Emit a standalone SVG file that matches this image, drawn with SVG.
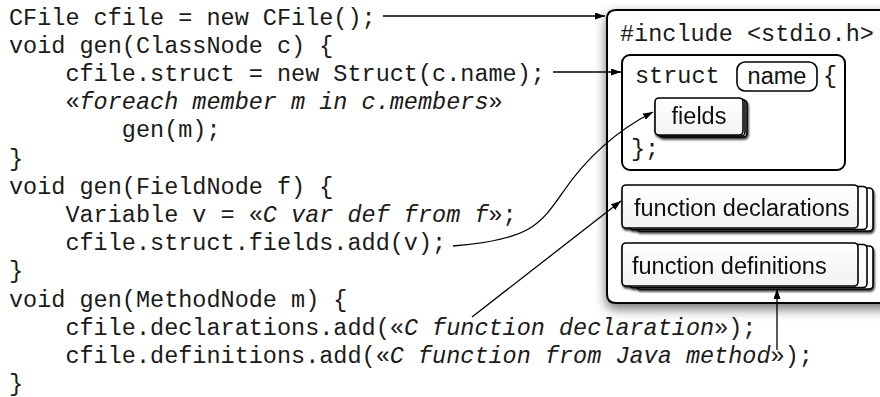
<svg xmlns="http://www.w3.org/2000/svg" width="880" height="397" viewBox="0 0 880 397">
<style>
.code{font-family:"Liberation Mono","Courier New",monospace;font-size:23.5px;fill:#1a1a1a}
.it{font-style:italic}
.sans{font-family:"Liberation Sans",Arial,Helvetica,sans-serif;font-size:23.5px;fill:#111}
.box{fill:#fff;stroke:#000;stroke-width:2}
.page{fill:#fcfcfc;stroke:#000;stroke-width:1.6}
.conn{fill:none;stroke:#000;stroke-width:1.3}
</style>
<defs>
<filter id="bigShadow" x="-10%" y="-10%" width="120%" height="125%">
<feDropShadow dx="0" dy="5" stdDeviation="6" flood-color="#000" flood-opacity="0.55"/>
</filter>
<filter id="smallShadow" x="-10%" y="-10%" width="120%" height="130%">
<feDropShadow dx="1" dy="2" stdDeviation="0.8" flood-color="#000" flood-opacity="0.8"/>
</filter>
<linearGradient id="pg" x1="0" y1="0" x2="0" y2="1">
<stop offset="0" stop-color="#ffffff"/>
<stop offset="1" stop-color="#f2f2f2"/>
</linearGradient>
<marker id="arr" markerUnits="userSpaceOnUse" markerWidth="11" markerHeight="8" refX="10" refY="3.5" orient="auto">
<path d="M0,0 L10,3.5 L0,7 z" fill="#000"/>
</marker>
</defs>

<g id="code">
<text class="code" x="9" y="24.5">CFile cfile = new CFile();</text>
<text class="code" x="9" y="52.7">void gen(ClassNode c) {</text>
<text class="code" x="9" y="80.9" xml:space="preserve">    cfile.struct = new Struct(c.name);</text>
<text class="code" x="9" y="109.1" xml:space="preserve">    «<tspan class="it">foreach member m in c.members</tspan>»</text>
<text class="code" x="9" y="137.3" xml:space="preserve">        gen(m);</text>
<text class="code" x="9" y="165.5">}</text>
<text class="code" x="9" y="193.7">void gen(FieldNode f) {</text>
<text class="code" x="9" y="221.9" xml:space="preserve">    Variable v = «<tspan class="it">C var def from f</tspan>»;</text>
<text class="code" x="9" y="250.1" xml:space="preserve">    cfile.struct.fields.add(v);</text>
<text class="code" x="9" y="278.3">}</text>
<text class="code" x="9" y="306.5">void gen(MethodNode m) {</text>
<text class="code" x="9" y="334.7" xml:space="preserve">    cfile.declarations.add(«<tspan class="it">C function declaration</tspan>»);</text>
<text class="code" x="9" y="362.9" xml:space="preserve">    cfile.definitions.add(«<tspan class="it">C function from Java method</tspan>»);</text>
<text class="code" x="9" y="390.5">}</text>
</g>

<g id="cfile">
<path class="box" d="M950,10 L616,10 Q607,10 607,19 L607,294 Q607,303 616,303 L950,303" filter="url(#bigShadow)"/>
<text class="code" x="620" y="41">#include &lt;stdio.h&gt;</text>
</g>

<g id="struct">
<rect class="box" x="622" y="55" width="223" height="115" rx="8"/>
<text class="code" x="635" y="83">struct</text>
<rect x="737" y="62" width="80" height="29" rx="8" fill="#fff" stroke="#000" stroke-width="1.6"/>
<text class="sans" x="777" y="84" text-anchor="middle">name</text>
<text class="code" x="823" y="83">{</text>
<text class="code" x="631" y="156">};</text>
</g>

<g id="fields" filter="url(#smallShadow)">
<rect class="page" x="659" y="100" width="88" height="37" rx="4"/>
<rect class="page" x="657" y="99" width="88" height="37" rx="4"/>
<rect x="655" y="98" width="88" height="37" rx="4" fill="url(#pg)" stroke="#000" stroke-width="1.6"/>
<text class="sans" x="699" y="124" text-anchor="middle">fields</text>
</g>

<g id="declarations" filter="url(#smallShadow)">
<rect class="page" x="636" y="188" width="237" height="43" rx="4"/>
<rect class="page" x="629" y="186.5" width="238" height="43" rx="4"/>
<rect x="622" y="185" width="236" height="43" rx="4" fill="url(#pg)" stroke="#000" stroke-width="1.6"/>
<text class="sans" x="634" y="216">function declarations</text>
</g>

<g id="definitions" filter="url(#smallShadow)">
<rect class="page" x="636" y="246" width="237" height="43" rx="4"/>
<rect class="page" x="629" y="244.5" width="238" height="43" rx="4"/>
<rect x="622" y="243" width="236" height="43" rx="4" fill="url(#pg)" stroke="#000" stroke-width="1.6"/>
<text class="sans" x="632" y="274">function definitions</text>
</g>

<g id="connectors">
<path class="conn" d="M383,16 L605,16" marker-end="url(#arr)"/>
<path class="conn" d="M553,72 L621,72" marker-end="url(#arr)"/>
<path class="conn" d="M453,246 C530,240 540,225 563,192 C585,160 612,133 653,112" marker-end="url(#arr)"/>
<path class="conn" d="M472,317 L621,201" marker-end="url(#arr)"/>
<path class="conn" d="M777,350 L777,289" marker-end="url(#arr)"/>
</g>
</svg>
